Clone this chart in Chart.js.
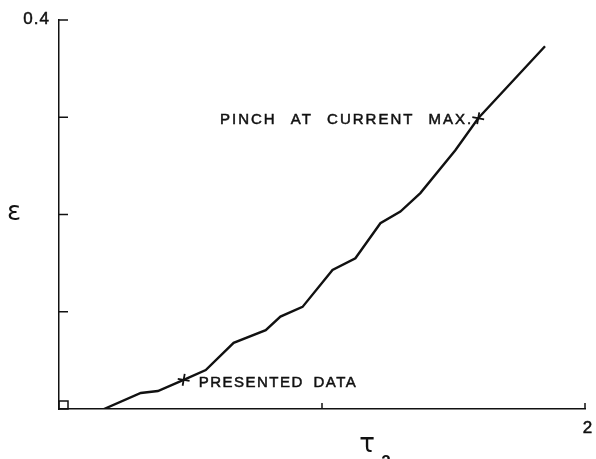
<!DOCTYPE html>
<html>
<head>
<meta charset="utf-8">
<script src="https://cdn.jsdelivr.net/npm/chart.js@4/dist/chart.umd.min.js"></script>
<style>
  html, body { margin: 0; padding: 0; background: #fff; }
  #wrap { width: 596px; height: 459px; }
</style>
</head>
<body>
<div id="wrap"><canvas id="c" width="596" height="459"></canvas></div>
<script>
// Strain epsilon versus normalised time tau_2
const tauValues = [0.171, 0.311, 0.376, 0.474, 0.558, 0.664, 0.786, 0.842, 0.926, 1.040, 1.127, 1.222, 1.298, 1.374, 1.507, 1.594, 1.848];
const epsValues = [0.000, 0.0165, 0.0185, 0.030, 0.040, 0.068, 0.081, 0.095, 0.105, 0.143, 0.155, 0.191, 0.203, 0.222, 0.266, 0.299, 0.373];

// Annotated points on the curve
const markTau = [0.474, 1.594];
const markEps = [0.030, 0.299];
const markText = ['PRESENTED DATA', 'PINCH AT CURRENT MAX.'];
const markSide = ['right', 'left'];

// Axis ticks and labels
const yTicks = [0.1, 0.2, 0.3, 0.4];
const xTicks = [1, 2];
const yTickLabels = { 0.4: '0.4' };
const xTickLabels = { 2: '2' };

const ink = '#111';

const curve = tauValues.map((t, i) => ({ x: t, y: epsValues[i] }));
const marks = markTau.map((t, i) => ({ x: t, y: markEps[i] }));

function inkText(ctx, s, x, y) {
  ctx.fillText(s, x, y);
  ctx.strokeText(s, x, y);
}

const decor = {
  id: 'decor',
  afterDraw(chart) {
    const { ctx, scales: { x, y } } = chart;
    const x0 = x.getPixelForValue(0);
    const y0 = y.getPixelForValue(0);
    ctx.save();
    ctx.strokeStyle = ink;
    ctx.fillStyle = ink;
    ctx.lineWidth = 1.5;

    // inward ticks on the y axis
    yTicks.forEach(v => {
      const py = y.getPixelForValue(v);
      ctx.beginPath();
      ctx.moveTo(x0, py);
      ctx.lineTo(x0 + 9, py);
      ctx.stroke();
    });
    // inward ticks on the x axis
    xTicks.forEach(v => {
      const px = x.getPixelForValue(v);
      ctx.beginPath();
      ctx.moveTo(px, y0);
      ctx.lineTo(px, y0 - 6);
      ctx.stroke();
    });

    // small square at the origin
    ctx.strokeRect(x0, y0 - 8, 9, 8);

    // tick labels
    ctx.lineWidth = 0.5;
    ctx.font = '17px "Liberation Sans", Arial, sans-serif';
    ctx.letterSpacing = '1px';
    ctx.textBaseline = 'middle';
    ctx.textAlign = 'right';
    Object.keys(yTickLabels).forEach(k => {
      inkText(ctx, yTickLabels[k], x0 - 9, y.getPixelForValue(+k) - 1);
    });
    ctx.textAlign = 'center';
    Object.keys(xTickLabels).forEach(k => {
      inkText(ctx, xTickLabels[k], x.getPixelForValue(+k) + 3, y0 + 19);
    });
    ctx.letterSpacing = '0px';

    // axis titles
    ctx.font = '26px "DejaVu Sans", sans-serif';
    ctx.textAlign = 'center';
    ctx.fillText('\u03B5', 14, 213);
    ctx.font = '26px "DejaVu Sans", sans-serif';
    ctx.fillText('\u03C4', 367, 445);
    ctx.font = 'bold 17px "Liberation Sans", Arial, sans-serif';
    ctx.textBaseline = 'top';
    ctx.fillText('2', 386, 454);

    // annotations next to the marked points
    ctx.font = '15px "Liberation Sans", Arial, sans-serif';
    ctx.letterSpacing = '1.5px';
    ctx.textBaseline = 'middle';
    marks.forEach((m, i) => {
      const px = x.getPixelForValue(m.x);
      const py = y.getPixelForValue(m.y);
      if (markSide[i] === 'right') {
        ctx.textAlign = 'left';
        ctx.wordSpacing = '4px';
        inkText(ctx, markText[i], px + 15, py + 3);
      } else {
        ctx.textAlign = 'right';
        ctx.letterSpacing = '2px';
        ctx.wordSpacing = '8px';
        inkText(ctx, markText[i], px - 5, py + 2);
      }
    });
    ctx.restore();
  }
};

new Chart(document.getElementById('c'), {
  type: 'scatter',
  data: {
    datasets: [
      {
        data: curve,
        showLine: true,
        borderColor: ink,
        borderWidth: 2.4,
        pointRadius: 0,
        tension: 0
      },
      {
        data: marks,
        showLine: false,
        pointStyle: 'cross',
        pointRadius: 6,
        pointBorderWidth: 1.8,
        pointBorderColor: ink,
        pointRotation: 10
      }
    ]
  },
  options: {
    responsive: false,
    animation: false,
    events: [],
    layout: { padding: { left: 51, right: 11, top: 20, bottom: 42 } },
    plugins: { legend: { display: false }, tooltip: { enabled: false } },
    scales: {
      x: {
        type: 'linear', min: 0, max: 2,
        ticks: { display: false },
        grid: { display: false },
        border: { display: true, color: ink, width: 1.5 }
      },
      y: {
        type: 'linear', min: 0, max: 0.4,
        ticks: { display: false },
        grid: { display: false },
        border: { display: true, color: ink, width: 1.5 }
      }
    }
  },
  plugins: [decor]
});
</script>
</body>
</html>
